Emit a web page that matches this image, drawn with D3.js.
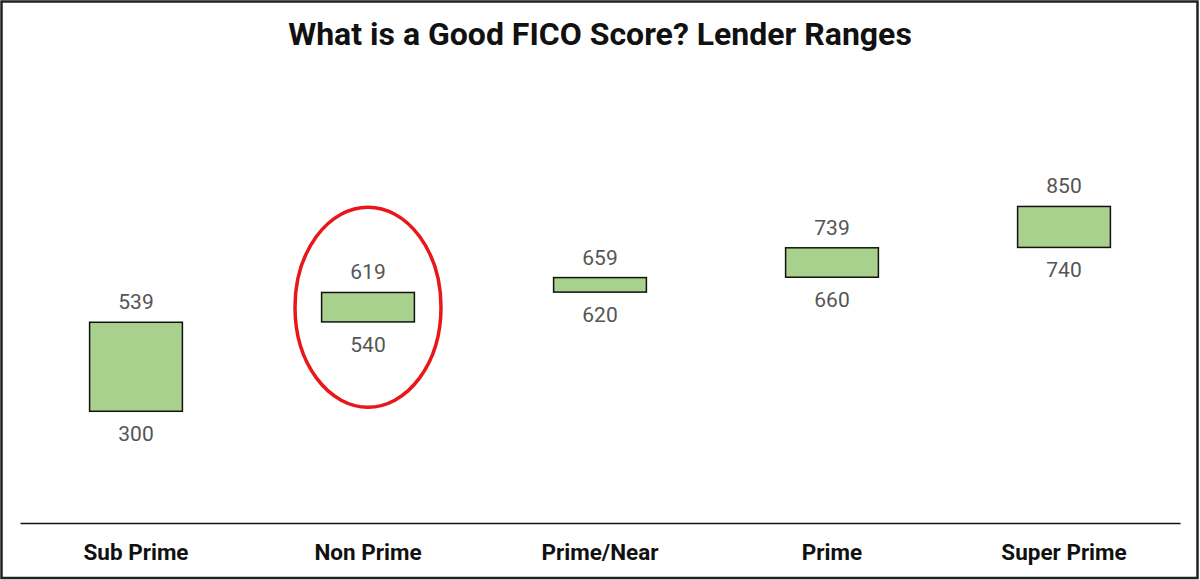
<!DOCTYPE html>
<html lang="en">
  <head>
    <meta charset="utf-8">
    <title>FICO lender ranges</title>
    <style>
      body { margin: 0; background: #fff; }
      svg { display: block; font-family: Roboto, 'Noto Sans', Arial, sans-serif; }
    </style>
  </head>
  <body>
    <div id="chart"></div>
    <script src="https://cdnjs.cloudflare.com/ajax/libs/d3/7.8.5/d3.min.js"></script>
    <script>
      const categories = ['Sub Prime', 'Non Prime', 'Prime/Near', 'Prime', 'Super Prime']
      const lowValues = [300, 540, 620, 660, 740]
      const highValues = [539, 619, 659, 739, 850]
      const highlighted = 'Non Prime'

      const width = 1200
      const height = 580
      const margin = { top: 150, right: 20, bottom: 57, left: 20 }

      const data = categories.map((c, i) => ({ name: c, low: lowValues[i], high: highValues[i] }))

      const svg = d3.select('#chart').append('svg')
        .attr('width', width)
        .attr('height', height)

      // frame
      svg.append('rect')
        .attr('x', 1.5).attr('y', 1.5)
        .attr('width', width - 4).attr('height', height - 3.5)
        .attr('fill', '#fff')
        .attr('stroke', '#222')
        .attr('stroke-width', 2.5)

      svg.append('text')
        .attr('x', width / 2)
        .attr('y', 45)
        .attr('text-anchor', 'middle')
        .style('font-size', '32px')
        .style('font-weight', 'bold')
        .attr('fill', '#111')
        .text('What is a Good FICO Score? Lender Ranges')

      const x = d3.scaleBand()
        .domain(categories)
        .range([margin.left, width - margin.right])
        .paddingInner(0.6)
        .paddingOuter(0.3)

      const y = d3.scaleLinear()
        .domain([0, 1000])
        .range([height - margin.bottom, height - margin.bottom - 372.4])

      // bars
      svg.selectAll('.range-bar')
        .data(data)
        .enter()
        .append('rect')
        .attr('class', 'range-bar')
        .attr('x', d => x(d.name))
        .attr('y', d => y(d.high))
        .attr('width', x.bandwidth())
        .attr('height', d => y(d.low) - y(d.high))
        .attr('fill', '#a9d18e')
        .attr('stroke', '#111')
        .attr('stroke-width', 1.5)

      const cx = d => x(d.name) + x.bandwidth() / 2

      svg.selectAll('.high-label')
        .data(data)
        .enter()
        .append('text')
        .attr('class', 'high-label')
        .attr('x', cx)
        .attr('y', d => y(d.high) - 13)
        .attr('text-anchor', 'middle')
        .attr('fill', '#555')
        .style('font-size', '21px')
        .text(d => d.high)

      svg.selectAll('.low-label')
        .data(data)
        .enter()
        .append('text')
        .attr('class', 'low-label')
        .attr('x', cx)
        .attr('y', d => y(d.low) + 30)
        .attr('text-anchor', 'middle')
        .attr('fill', '#555')
        .style('font-size', '21px')
        .text(d => d.low)

      // highlight ellipse
      const h = data.find(d => d.name === highlighted)
      svg.append('ellipse')
        .attr('cx', cx(h))
        .attr('cy', (y(h.low) + y(h.high)) / 2)
        .attr('rx', 73)
        .attr('ry', 100)
        .attr('fill', 'none')
        .attr('stroke', '#e8171b')
        .attr('stroke-width', 3.5)

      // baseline axis
      const axis = svg.append('g')
        .attr('transform', `translate(0, ${y(0)})`)
        .call(d3.axisBottom(x).tickSize(0).tickPadding(21))
      axis.select('.domain').attr('stroke', '#111').attr('stroke-width', 1.5)
      axis.selectAll('text')
        .style('font-family', 'Roboto, Arial, sans-serif')
        .style('font-size', '22.5px')
        .style('font-weight', 'bold')
        .attr('fill', '#111')
    </script>
  </body>
</html>
